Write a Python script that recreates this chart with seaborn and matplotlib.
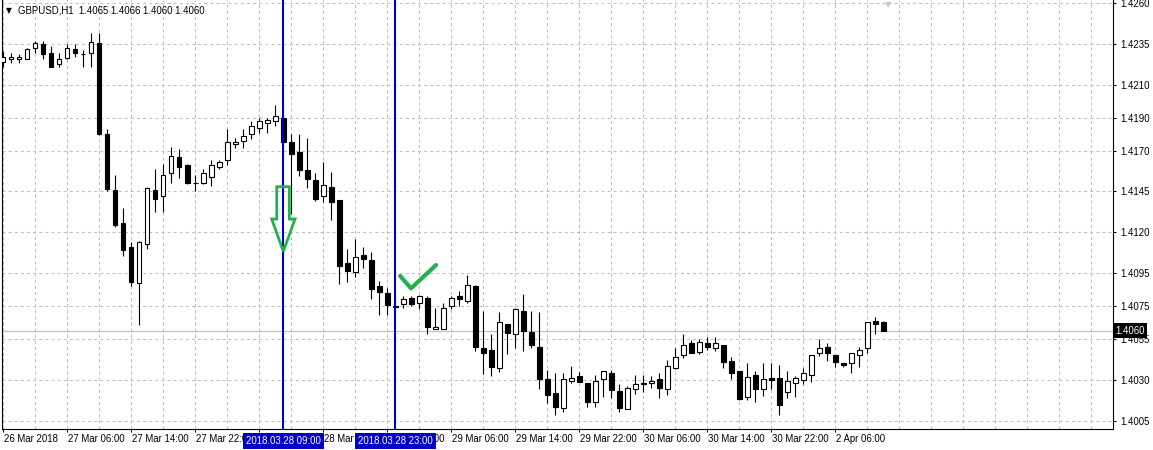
#!/usr/bin/env python3

import numpy as np
import matplotlib
matplotlib.use('Agg')
import matplotlib.pyplot as plt
import matplotlib.transforms as mtransforms
from matplotlib.patches import Polygon
from matplotlib.ticker import MultipleLocator
import seaborn as sns

sns.set_theme(style='white')
plt.rcParams['font.family'] = ['Liberation Sans Narrow', 'Liberation Sans', 'DejaVu Sans']
plt.rcParams['lines.scale_dashes'] = False

# GBPUSD H1 candles
opens = [1.42243, 1.42258, 1.42258, 1.42258, 1.42325, 1.42349, 1.42294, 1.42227, 1.42267, 1.42321,
         1.42291, 1.42294, 1.42355, 1.41799, 1.41457, 1.41257, 1.41111, 1.40889, 1.41127, 1.41457,
         1.41421, 1.41561, 1.41661, 1.41612, 1.41500, 1.41504, 1.41537, 1.41598, 1.41641, 1.41738,
         1.41757, 1.41799, 1.41836, 1.41867, 1.41879, 1.41897, 1.41751, 1.41689, 1.41579, 1.41518,
         1.41421, 1.41476, 1.41396, 1.41011, 1.40956, 1.41060, 1.41031, 1.40873, 1.40828, 1.40748,
         1.40761, 1.40797, 1.40767, 1.40797, 1.40608, 1.40608, 1.40749, 1.40810, 1.40779, 1.40871,
         1.40492, 1.40480, 1.40370, 1.40639, 1.40577, 1.40718, 1.40590, 1.40498, 1.40302, 1.40219,
         1.40129, 1.40290, 1.40321, 1.40280, 1.40162, 1.40302, 1.40339, 1.40231, 1.40119, 1.40241,
         1.40278, 1.40278, 1.40302, 1.40241, 1.40370, 1.40449, 1.40522, 1.40467, 1.40522, 1.40492,
         1.40512, 1.40416, 1.40351, 1.40196, 1.40327, 1.40245, 1.40309, 1.40309, 1.40227, 1.40278,
         1.40300, 1.40327, 1.40461, 1.40498, 1.40449, 1.40400, 1.40400, 1.40449, 1.40492, 1.40657,
         1.40650]
highs = [1.42310, 1.42294, 1.42290, 1.42325, 1.42370, 1.42370, 1.42339, 1.42294, 1.42351, 1.42351,
         1.42315, 1.42417, 1.42417, 1.41830, 1.41551, 1.41347, 1.41140, 1.41149, 1.41479, 1.41587,
         1.41618, 1.41722, 1.41710, 1.41616, 1.41551, 1.41586, 1.41642, 1.41642, 1.41832, 1.41775,
         1.41832, 1.41879, 1.41897, 1.41897, 1.41978, 1.41972, 1.41801, 1.41799, 1.41775, 1.41561,
         1.41628, 1.41567, 1.41396, 1.41097, 1.41160, 1.41109, 1.41082, 1.40901, 1.40858, 1.40807,
         1.40811, 1.40811, 1.40816, 1.40811, 1.40736, 1.40767, 1.40811, 1.40842, 1.40940, 1.40877,
         1.40720, 1.40577, 1.40712, 1.40639, 1.40738, 1.40822, 1.40720, 1.40714, 1.40357, 1.40341,
         1.40341, 1.40384, 1.40345, 1.40280, 1.40327, 1.40351, 1.40357, 1.40274, 1.40260, 1.40329,
         1.40329, 1.40321, 1.40339, 1.40419, 1.40492, 1.40579, 1.40543, 1.40547, 1.40559, 1.40559,
         1.40512, 1.40437, 1.40351, 1.40400, 1.40351, 1.40400, 1.40400, 1.40390, 1.40353, 1.40325,
         1.40370, 1.40449, 1.40547, 1.40522, 1.40449, 1.40400, 1.40461, 1.40502, 1.40651, 1.40685,
         1.40660]
lows = [1.42212, 1.42237, 1.42237, 1.42258, 1.42294, 1.42258, 1.42212, 1.42209, 1.42258, 1.42274,
        1.42212, 1.42212, 1.41795, 1.41455, 1.41231, 1.41058, 1.40873, 1.40634, 1.41097, 1.41327,
        1.41327, 1.41504, 1.41534, 1.41496, 1.41453, 1.41496, 1.41485, 1.41586, 1.41612, 1.41718,
        1.41718, 1.41769, 1.41806, 1.41806, 1.41848, 1.41663, 1.41312, 1.41546, 1.41473, 1.41394,
        1.41388, 1.41276, 1.40887, 1.40899, 1.40929, 1.40984, 1.40795, 1.40697, 1.40697, 1.40716,
        1.40736, 1.40750, 1.40730, 1.40577, 1.40608, 1.40608, 1.40730, 1.40749, 1.40767, 1.40477,
        1.40337, 1.40325, 1.40349, 1.40459, 1.40496, 1.40477, 1.40496, 1.40245, 1.40159, 1.40086,
        1.40104, 1.40278, 1.40288, 1.40135, 1.40135, 1.40196, 1.40190, 1.40104, 1.40119, 1.40214,
        1.40227, 1.40247, 1.40190, 1.40207, 1.40364, 1.40431, 1.40461, 1.40455, 1.40482, 1.40475,
        1.40370, 1.40306, 1.40176, 1.40176, 1.40166, 1.40200, 1.40243, 1.40087, 1.40190, 1.40196,
        1.40274, 1.40288, 1.40445, 1.40416, 1.40380, 1.40380, 1.40339, 1.40380, 1.40461, 1.40577,
        1.40600]
closes = [1.42274, 1.42270, 1.42270, 1.42319, 1.42355, 1.42288, 1.42212, 1.42258, 1.42325, 1.42294,
          1.42290, 1.42365, 1.41801, 1.41465, 1.41247, 1.41094, 1.40899, 1.41140, 1.41470, 1.41406,
          1.41549, 1.41665, 1.41598, 1.41504, 1.41500, 1.41561, 1.41610, 1.41628, 1.41751, 1.41751,
          1.41787, 1.41848, 1.41879, 1.41885, 1.41909, 1.41754, 1.41677, 1.41583, 1.41528, 1.41406,
          1.41488, 1.41388, 1.40997, 1.40966, 1.41048, 1.41039, 1.40856, 1.40838, 1.40758, 1.40747,
          1.40791, 1.40761, 1.40810, 1.40620, 1.40620, 1.40736, 1.40797, 1.40791, 1.40877, 1.40498,
          1.40465, 1.40380, 1.40651, 1.40587, 1.40730, 1.40599, 1.40510, 1.40306, 1.40208, 1.40135,
          1.40302, 1.40309, 1.40288, 1.40166, 1.40290, 1.40351, 1.40239, 1.40129, 1.40247, 1.40272,
          1.40272, 1.40290, 1.40247, 1.40381, 1.40437, 1.40512, 1.40461, 1.40529, 1.40498, 1.40522,
          1.40410, 1.40339, 1.40180, 1.40318, 1.40241, 1.40302, 1.40300, 1.40145, 1.40292, 1.40309,
          1.40339, 1.40449, 1.40492, 1.40461, 1.40410, 1.40388, 1.40461, 1.40480, 1.40651, 1.40639,
          1.40600]

price_ticks = [1.4260, 1.4235, 1.4210, 1.4190, 1.4170, 1.4145, 1.4120,
               1.4095, 1.4075, 1.4055, 1.4030, 1.4005]
time_tick_bars = [0, 8, 16, 24, 32, 40, 48, 56, 64, 72, 80, 88, 96, 104]
time_tick_labels = ['26 Mar 2018', '27 Mar 06:00', '27 Mar 14:00', '27 Mar 22:00',
                    '28 Mar 06:00', '28 Mar 14:00', '28 Mar 22:00', '29 Mar 06:00',
                    '29 Mar 14:00', '29 Mar 22:00', '30 Mar 06:00', '30 Mar 14:00',
                    '30 Mar 22:00', '2 Apr 06:00']

vline_bars = [35, 49]
vline_labels = ['2018.03.28 09:00', '2018.03.28 23:00']
last_price = 1.4060
header = 'GBPUSD,H1  1.4065 1.4066 1.4060 1.4060'

# hand drawn objects on the chart (bar index, price)
arrow_x = [34.18, 35.75, 35.75, 36.46, 35.0, 33.55, 34.18]
arrow_y = [1.41479, 1.41479, 1.41282, 1.41282, 1.41084, 1.41282, 1.41282]
check_x = [49.6, 50.96, 54.1]
check_y = [1.40934, 1.40858, 1.41001]

BLUE = '#0000C8'
GREEN = '#22B14C'
GRID = '#c0c0c0'
FS = 6.9


def main():
    fig = plt.figure(figsize=(11.53, 4.5), dpi=100)
    ax = fig.add_axes([2 / 1153, 21.5 / 450, 1111 / 1153, 428.5 / 450])
    ax.set_facecolor('white')

    o = np.array(opens)
    c = np.array(closes)
    idx = np.arange(len(o))
    bull = c > o

    ax.vlines(idx, lows, highs, color='black', linewidth=0.8, zorder=3)
    ax.bar(idx, np.abs(c - o), bottom=np.minimum(o, c), width=0.55,
           color=np.where(bull, 'white', 'black'), edgecolor='black',
           linewidth=0.8, zorder=4)

    ax.set_xlim(-0.16, 138.7)
    ax.set_ylim(1.40002, 1.42620)

    # grid
    ax.set_yticks(price_ticks)
    ax.set_yticklabels(['{:.4f}'.format(v) for v in price_ticks])
    ax.yaxis.tick_right()
    ax.set_xticks(time_tick_bars)
    ax.set_xticklabels(time_tick_labels, ha='left')
    ax.xaxis.set_minor_locator(MultipleLocator(4))
    ax.xaxis.remove_overlapping_locs = False
    ax.grid(axis='y', color=GRID, linestyle=(0, (2.2, 2.2)), linewidth=0.75)
    ax.grid(axis='x', which='both', color=GRID, linestyle=(0, (2.2, 2.2)), linewidth=0.75)

    ax.tick_params(axis='x', which='major', direction='out', length=2.5, width=0.75,
                   color='black', pad=1.8, labelsize=FS, labelcolor='black', bottom=True)
    ax.tick_params(axis='x', which='minor', length=0)
    ax.tick_params(axis='y', direction='out', length=2.5, width=0.75, color='black',
                   pad=2.5, labelsize=FS, labelcolor='black', right=True, left=False)
    for lab in ax.get_xticklabels():
        lab.set_transform(lab.get_transform() +
                          mtransforms.ScaledTranslation(1 / 100, 0, fig.dpi_scale_trans))

    for side in ['left', 'bottom', 'right']:
        ax.spines[side].set_color('black')
        ax.spines[side].set_linewidth(0.8)
    ax.spines['top'].set_visible(False)

    # last price line and its label
    ax.axhline(last_price, color=GRID, linewidth=0.9, zorder=2)
    ax.text(1.0022, last_price, '{:.4f}'.format(last_price),
            transform=mtransforms.blended_transform_factory(ax.transAxes, ax.transData),
            ha='left', va='center', color='white', fontsize=FS,
            bbox=dict(boxstyle='square,pad=0.25', fc='black', ec='none'),
            clip_on=False, zorder=6)

    # vertical lines with their time labels
    xt = mtransforms.blended_transform_factory(ax.transData, ax.transAxes)
    for bar, label in zip(vline_bars, vline_labels):
        ax.axvline(bar, color=BLUE, linewidth=1.5, zorder=5)
        ax.text(bar, -0.0295, label, transform=xt, ha='center', va='center',
                color='white', fontsize=FS,
                bbox=dict(boxstyle='square,pad=0.3', fc=BLUE, ec='none'),
                clip_on=False, zorder=7)

    # arrow and tick mark drawn by hand
    ax.add_patch(Polygon(list(zip(arrow_x, arrow_y)), closed=True, fill=False,
                         edgecolor=GREEN, linewidth=2.0, joinstyle='miter', zorder=6))
    ax.plot(check_x, check_y, color=GREEN, linewidth=3.0,
            solid_capstyle='round', solid_joinstyle='round', zorder=6)

    # header
    ax.text(4 / 1111, 0.975, '\u25bc', transform=ax.transAxes, ha='left', va='center',
            fontsize=5.5, color='black', family=['DejaVu Sans'])
    ax.text(16 / 1111, 0.975, header, transform=ax.transAxes, ha='left', va='center',
            fontsize=FS, color='black')
    ax.text(886 / 1111, 1.0, '\u25bc', transform=ax.transAxes, ha='center', va='top',
            fontsize=6, color='#c8c8c8', family=['DejaVu Sans'])

    fig.savefig('out.png', dpi=100)
    return 0


if __name__ == '__main__':
    main()
